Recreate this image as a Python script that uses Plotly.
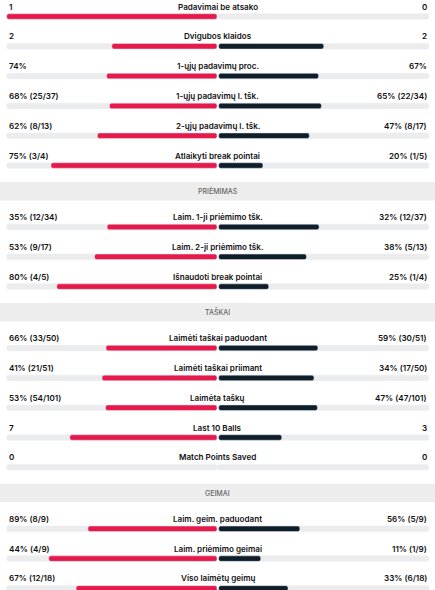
import plotly.graph_objects as go

# sections (first one has its header scrolled out of view)
section_titles = ["", "PRIĖMIMAS", "TAŠKAI", "GEIMAI"]
section_sizes = [6, 3, 5, 3]

stat_names = [
    "Padavimai be atsako", "Dvigubos klaidos", "1-ųjų padavimų proc.",
    "1-ųjų padavimų l. tšk.", "2-ųjų padavimų l. tšk.", "Atlaikyti break pointai",
    "Laim. 1-ji priėmimo tšk.", "Laim. 2-ji priėmimo tšk.", "Išnaudoti break pointai",
    "Laimėti taškai paduodant", "Laimėti taškai priimant", "Laimėta taškų",
    "Last 10 Balls", "Match Points Saved",
    "Laim. geim. paduodant", "Laim. priėmimo geimai", "Viso laimėtų geimų",
]
home_text = [
    "1", "2", "74%", "68% (25/37)", "62% (8/13)", "75% (3/4)",
    "35% (12/34)", "53% (9/17)", "80% (4/5)",
    "66% (33/50)", "41% (21/51)", "53% (54/101)", "7", "0",
    "89% (8/9)", "44% (4/9)", "67% (12/18)",
]
away_text = [
    "0", "2", "67%", "65% (22/34)", "47% (8/17)", "20% (1/5)",
    "32% (12/37)", "38% (5/13)", "25% (1/4)",
    "59% (30/51)", "34% (17/50)", "47% (47/101)", "3", "0",
    "56% (5/9)", "11% (1/9)", "33% (6/18)",
]
home_vals = [1, 2, 74, 68, 62, 75, 35, 53, 80, 66, 41, 53, 7, 0, 89, 44, 67]
away_vals = [0, 2, 67, 65, 47, 20, 32, 38, 25, 59, 34, 47, 3, 0, 56, 11, 33]

RED = "#e5194a"
DARK = "#0f1e29"
TRACK = "#ececec"
BAND = "#ededed"
FONT = "Inter"

ROW_STEP = 29.8
BAND_H = 18.5
GAP = 0.004

# vertical layout in pixel units
bar_y = []
bands = []
y = 16.5
for si, n in enumerate(section_sizes):
    if section_titles[si]:
        top = bar_y[-1] + 16.5
        bands.append((top, top + BAND_H, section_titles[si]))
        y = top + BAND_H + 26.5
    for k in range(n):
        bar_y.append(y)
        y += ROW_STEP

home_share = []
away_share = []
for h, a in zip(home_vals, away_vals):
    tot = h + a
    home_share.append(h / tot if tot else 0)
    away_share.append(a / tot if tot else 0)

L = 1 - GAP
fig = go.Figure()
fig.add_trace(go.Bar(y=bar_y, x=[-L] * len(bar_y), base=-GAP, orientation="h",
                     width=5.5, marker=dict(color=TRACK, cornerradius=2)))
fig.add_trace(go.Bar(y=bar_y, x=[L] * len(bar_y), base=GAP, orientation="h",
                     width=5.5, marker=dict(color=TRACK, cornerradius=2)))
fig.add_trace(go.Bar(y=bar_y, x=[-s * L for s in home_share], base=-GAP, orientation="h",
                     width=5.5, marker=dict(color=RED, cornerradius=2)))
fig.add_trace(go.Bar(y=bar_y, x=[s * L for s in away_share], base=GAP, orientation="h",
                     width=5.5, marker=dict(color=DARK, cornerradius=2)))

txt = dict(family=FONT, size=8.1, color="#111111", weight=600)
for i, yb in enumerate(bar_y):
    ly = yb - 10
    fig.add_annotation(x=-1, y=ly, text=home_text[i], xanchor="left", showarrow=False, font=txt)
    fig.add_annotation(x=0, y=ly, text=stat_names[i], xanchor="center", showarrow=False, font=txt)
    fig.add_annotation(x=1, y=ly, text=away_text[i], xanchor="right", showarrow=False, font=txt)

for top, bot, title in bands:
    fig.add_shape(type="rect", xref="paper", x0=0, x1=1, y0=top, y1=bot,
                  fillcolor=BAND, line_width=0, layer="below")
    fig.add_annotation(x=0, y=(top + bot) / 2, text=title, showarrow=False,
                       font=dict(family=FONT, size=7, color="#666666", weight=500))

fig.update_layout(
    width=435, height=590,
    margin=dict(l=0, r=0, t=0, b=0),
    paper_bgcolor="white", plot_bgcolor="white",
    barmode="overlay", showlegend=False,
    xaxis=dict(range=[-1.032, 1.029], visible=False, fixedrange=True),
    yaxis=dict(range=[590, 0], visible=False, fixedrange=True),
)

fig.write_html("out.html", config={"displayModeBar": False},
               post_script="document.body.style.margin='0';document.body.style.overflow='hidden';")
